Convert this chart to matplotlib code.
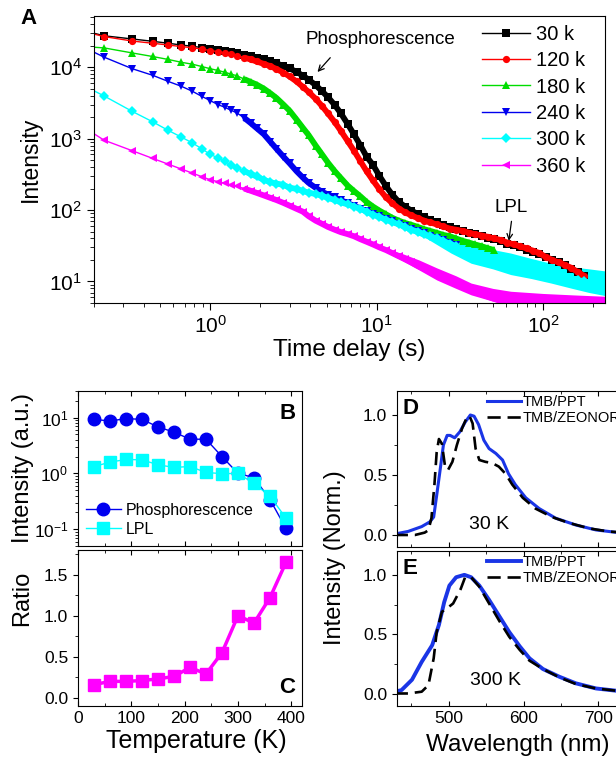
import matplotlib
matplotlib.use('Agg')
import matplotlib.pyplot as plt
from matplotlib.ticker import LogLocator, MultipleLocator, NullFormatter

plt.rcParams['font.family'] = ['Liberation Sans', 'DejaVu Sans']
plt.rcParams['mathtext.fontset'] = 'custom'
plt.rcParams['mathtext.rm'] = 'Liberation Sans'
plt.rcParams['mathtext.it'] = 'Liberation Sans:italic'
plt.rcParams['mathtext.bf'] = 'Liberation Sans:bold'
nan = float('nan')

# ---- panel A : decay curves ----
time_s = [0.12, 0.23, 0.34, 0.45, 0.56, 0.67, 0.78, 0.89, 1.0, 1.11, 1.22, 1.33, 1.44,
          1.6, 1.75, 1.9, 2.1, 2.3, 2.5, 2.75, 3.0, 3.3, 3.6,
          3.9, 4.3, 4.7, 5.1, 5.6, 6.1, 6.7, 7.3, 8.0, 8.7,
          9.5, 10.4, 11.4, 12.4, 13.6, 14.8, 16.2, 17.7, 19.3, 21,
          23, 25, 27.5, 30, 33, 36, 39, 43, 47, 51,
          56, 61, 67, 73, 80, 87, 95, 104, 114, 124,
          136, 148, 162, 177, 193, 210, 230]
i_30k = [40000, 27500, 24800, 23000, 21600, 20400, 19600, 18800, 18000, 17500, 17000, 16400, 15800,
         15000, 14300, 13600, 12800, 12100, 11300, 10400, 9600, 8600, 7600,
         6700, 5600, 4600, 3800, 2950, 2250, 1600, 1150, 800, 560,
         430, 300, 215, 165, 130, 112, 98, 88, 80, 73,
         67, 62, 57, 54, 51, 48, 46, 43, 41, 39,
         37, 34, 32, 30, 28, 26, 24, 22, 20, 18.5,
         17, 15, 13.5, 12, nan, nan, nan]
i_120k = [39000, 26800, 23200, 21600, 20400, 19400, 18700, 17900, 17100, 16500, 15900, 15200, 14500,
          13600, 12800, 12000, 11100, 10300, 9400, 8400, 7400, 6300, 5300,
          4500, 3600, 2850, 2250, 1700, 1280, 920, 680, 480, 350,
          260, 195, 150, 125, 105, 93, 84, 77, 71, 67,
          63, 59, 55, 53, 51, 48, 46, 44, 42, 40,
          38, 35, 33, 31, 29, 27, 25, 22, 20, 18.5,
          17, 15.5, 13.5, 12, nan, nan, nan]
i_180k = [20500, 18600, 15800, 14100, 12800, 11700, 11000, 10200, 9500, 9000, 8500, 8000, 7600,
          6800, 6200, 5700, 5000, 4300, 3700, 3000, 2450, 1850, 1420,
          1120, 800, 600, 460, 350, 280, 220, 185, 155, 130,
          112, 98, 87, 78, 71, 66, 62, 58, 54, 51,
          48, 45, 43, 40, 37, 35, 33, 31, 29, 27.5,
          nan, nan, nan, nan, nan, nan, nan, nan, nan, nan,
          nan, nan, nan, nan, nan, nan, nan]
i_240k = [29000, 13800, 9500, 7700, 6300, 5400, 4600, 3900, 3400, 3000, 2750, 2500, 2300,
          1950, 1650, 1400, 1150, 900, 720, 560, 450, 350, 285,
          240, 205, 180, 165, 150, 138, 125, 115, 105, 96,
          89, 82, 76, 70, 64, 59, 55, 51, 47, 44,
          41, 38, 35, 32, nan, nan, nan, nan, nan, nan,
          nan, nan, nan, nan, nan, nan, nan, nan, nan, nan,
          nan, nan, nan, nan, nan, nan, nan]
i_300k = [8600, 3950, 2400, 1720, 1300, 1050, 870, 720, 600, 540, 480, 430, 390,
          350, 320, 295, 265, 245, 235, 225, 205, 198, 185,
          175, 168, 158, 148, 138, 128, 120, 112, 104, 95,
          86, 80, 73, 68, 63, 58, 53, 50, 46, 43,
          40, 37, 34, 31, 28, 26, 24, 22, 21, 20,
          19, 18, 17, 16, 15, 14, 13.5, 13, 12.5, 12,
          11.5, 11, 10.5, 10, 9.7, 9.4, 9.0]
i_360k = [2500, 950, 676, 529, 438, 375, 329, 293, 265, 250, 238, 225, 215,
          200, 186, 174, 160, 148, 138, 126, 115, 104, 95,
          82, 71, 64, 58, 53, 49, 46, 43, 39, 36,
          33, 30, 27.5, 25, 22.5, 20.5, 18.5, 16.5, 15, 13.5,
          12.3, 11.2, 10.2, 9.3, 8.5, 7.8, 7.2, 6.6, 6.1, 5.7,
          5.4, 5.2, 5.1, 5.0, 5.0, 5.0, 5.0, 5.0, 5.0, 5.0,
          5.0, 5.0, 5.0, 5.0, 5.0, 5.0, 5.0]
# noisy tails (envelopes)
band300_t = [15, 20, 28, 37, 50, 64, 85, 112, 150, 190, 240]
band300_lo = [52, 40, 25, 18, 15, 12.5, 11, 9.5, 8, 7, 6.3]
band300_hi = [58, 50, 40, 31, 28, 25, 21, 18, 16, 15, 14]
band360_t = [11, 14, 18, 23, 30, 37, 50, 64, 100, 150, 240]
band360_lo = [27, 20, 14.5, 10.5, 8, 6.5, 5.3, 4.5, 4.5, 4.5, 4.5]
band360_hi = [29, 25, 20, 15.5, 12, 9.5, 8, 7.3, 6.8, 6.5, 6.2]

series_A = [('30 k', i_30k, 'black', 's'), ('120 k', i_120k, '#ff0000', 'o'),
            ('180 k', i_180k, '#00dd00', '^'), ('240 k', i_240k, '#0000ee', 'v'),
            ('300 k', i_300k, '#00ffff', 'D'), ('360 k', i_360k, '#ff00ff', '<')]

# ---- panels B, C ----
temp_K = [30, 60, 90, 120, 150, 180, 210, 240, 270, 300, 330, 360, 390]
phos = [9.3, 8.7, 9.6, 9.3, 6.8, 5.5, 4.1, 4.1, 2.0, 1.0, 0.84, 0.34, 0.103]
lpl = [1.33, 1.59, 1.78, 1.75, 1.43, 1.28, 1.33, 1.04, 0.99, 1.0, 0.66, 0.39, 0.158]
ratio = [0.16, 0.20, 0.20, 0.21, 0.23, 0.26, 0.37, 0.29, 0.55, 1.0, 0.91, 1.22, 1.65]

# ---- panels D, E : spectra ----
wl_ppt_30 = [428, 446, 464, 475, 480, 484, 489, 493, 498, 502, 508, 515, 522, 529, 534, 540,
             547, 554, 563, 572, 580, 589, 603, 621, 643, 670, 697, 724, 760, 790]
ppt_30 = [0.008, 0.03, 0.07, 0.11, 0.15, 0.33, 0.56, 0.75, 0.83, 0.83, 0.81, 0.86, 0.94, 1.0, 0.99, 0.92,
          0.79, 0.72, 0.68, 0.625, 0.51, 0.42, 0.31, 0.22, 0.14, 0.083, 0.042, 0.022, 0.012, 0.008]
wl_zeo_30 = [428, 455, 468, 473, 477, 481, 484, 487, 491, 495, 499, 505, 511, 518, 525, 528, 532,
             536, 541, 549, 558, 567, 576, 585, 599, 616, 638, 661, 688, 715, 760, 790]
zeo_30 = [0.0, 0.0, 0.02, 0.04, 0.14, 0.42, 0.69, 0.80, 0.76, 0.58, 0.54, 0.61, 0.75, 0.89, 0.99, 0.99, 0.93,
          0.72, 0.625, 0.61, 0.6, 0.57, 0.51, 0.42, 0.31, 0.22, 0.15, 0.1, 0.055, 0.028, 0.012, 0.008]
wl_ppt_300 = [428, 437, 451, 464, 478, 487, 494, 501, 510, 521, 530, 541, 554, 568, 581, 595,
              608, 626, 648, 670, 697, 724, 760, 790]
ppt_300 = [0.02, 0.033, 0.12, 0.27, 0.41, 0.58, 0.77, 0.91, 0.98, 1.0, 0.98, 0.91, 0.79, 0.65, 0.52, 0.40,
           0.30, 0.21, 0.145, 0.09, 0.047, 0.028, 0.015, 0.01]
wl_zeo_300 = [428, 446, 464, 473, 480, 484, 491, 498, 506, 516, 522, 530, 541, 554, 568, 581, 595,
              608, 626, 648, 670, 697, 724, 760, 790]
zeo_300 = [0.005, 0.005, 0.02, 0.075, 0.3, 0.52, 0.69, 0.72, 0.76, 0.88, 0.98, 0.98, 0.9, 0.76, 0.61, 0.48, 0.37,
           0.28, 0.21, 0.14, 0.084, 0.047, 0.028, 0.015, 0.01]

W, H = 616.0, 759.0
fig = plt.figure(figsize=(6.16, 7.59), dpi=100)


def box(l, t, r, b):
    return [l / W, 1 - b / H, (r - l) / W, (b - t) / H]


# ---------- A ----------
axA = fig.add_axes(box(94, 16, 605, 303))
dense = 13  # from here on the markers overlap into a band
for lab, vals, col, mk in series_A:
    axA.plot(time_s[dense:], vals[dense:], color=col, lw=4.2, solid_capstyle='butt')
    axA.plot(time_s, vals, color=col, marker=mk, ms=5.2, mew=0, lw=1, label=lab)
    if lab == '300 k':
        axA.fill_between(band300_t, band300_lo, band300_hi, color=col, lw=0)
    if lab == '360 k':
        axA.fill_between(band360_t, band360_lo, band360_hi, color=col, lw=0)
axA.set_xscale('log')
axA.set_yscale('log')
axA.set_xlim(0.2, 236)
axA.set_ylim(5, 5.2e4)
axA.xaxis.set_minor_locator(LogLocator(subs=range(2, 10), numticks=20))
axA.yaxis.set_minor_locator(LogLocator(subs=range(2, 10), numticks=20))
axA.xaxis.set_minor_formatter(NullFormatter())
axA.yaxis.set_minor_formatter(NullFormatter())
axA.tick_params(which='both', direction='out', top=False, right=False, labelsize=15)
axA.tick_params(which='major', length=5)
axA.tick_params(which='minor', length=3)
axA.set_xlabel('Time delay (s)', fontsize=17.5, labelpad=2)
fig.text(30 / W, 1 - 159 / H, 'Intensity', rotation=90, fontsize=16.5, ha='center', va='center')
axA.legend(loc='upper left', bbox_to_anchor=(0.759, 0.97), frameon=False, fontsize=14.5,
           handlelength=2.4, handletextpad=0.3, labelspacing=0.37, borderpad=0, borderaxespad=0)
axA.text(10.6, 24000, 'Phosphorescence', fontsize=13.5, ha='center', va='center')
axA.annotate('', xy=(4.3, 8000), xytext=(5.4, 14500),
             arrowprops=dict(arrowstyle='->', color='black', lw=0.9))
axA.text(64, 110, 'LPL', fontsize=13.5, ha='center', va='center')
axA.annotate('', xy=(62, 34), xytext=(65, 76),
             arrowprops=dict(arrowstyle='->', color='black', lw=0.9))
fig.text(20 / W, 1 - 18 / H, 'A', fontsize=16, fontweight='bold', ha='left', va='center')

# ---------- B ----------
axB = fig.add_axes(box(78, 391, 302, 546))
axB.plot(temp_K, phos, color='#0000f0', marker='o', ms=9, lw=1, label='Phosphorescence')
axB.plot(temp_K, lpl, color='#00ffff', marker='s', ms=8, lw=1, label='LPL')
axB.set_yscale('log')
axB.set_xlim(0, 420)
axB.set_ylim(0.05, 30)
axB.xaxis.set_major_locator(MultipleLocator(100))
axB.xaxis.set_minor_locator(MultipleLocator(50))
axB.yaxis.set_minor_locator(LogLocator(subs=range(2, 10), numticks=20))
axB.yaxis.set_minor_formatter(NullFormatter())
axB.tick_params(axis='x', which='both', direction='in', top=True, labelbottom=False)
axB.tick_params(axis='y', which='both', direction='out', labelsize=12.5)
axB.legend(loc='lower left', bbox_to_anchor=(0.035, 0.06), frameon=False, fontsize=11.5,
           handlelength=2.2, handletextpad=0.3, labelspacing=0.25, borderpad=0, borderaxespad=0)
axB.text(0.97, 0.92, 'B', transform=axB.transAxes, fontsize=16, fontweight='bold', ha='right', va='top')
fig.text(23 / W, 1 - 468 / H, 'Intensity (a.u.)', rotation=90, fontsize=17, ha='center', va='center')

# ---------- C ----------
axC = fig.add_axes(box(78, 550, 302, 706))
axC.plot(temp_K, ratio, color='#ff00ff', marker='s', ms=8.5, lw=2.5)
axC.set_xlim(0, 420)
axC.set_ylim(-0.1, 1.8)
axC.xaxis.set_major_locator(MultipleLocator(100))
axC.xaxis.set_minor_locator(MultipleLocator(50))
axC.yaxis.set_major_locator(MultipleLocator(0.5))
axC.yaxis.set_minor_locator(MultipleLocator(0.25))
axC.yaxis.set_major_formatter(plt.FormatStrFormatter('%.1f'))
axC.tick_params(axis='x', which='both', direction='in', top=True, labelsize=12.5)
axC.tick_params(axis='y', which='both', direction='out', labelsize=12.5)
axC.text(0.97, 0.05, 'C', transform=axC.transAxes, fontsize=16, fontweight='bold', ha='right', va='bottom')
fig.text(22 / W, 1 - 598 / H, 'Ratio', rotation=90, fontsize=17, ha='center', va='center')
fig.text(196 / W, 1 - 741 / H, 'Temperature (K)', fontsize=18, ha='center', va='center')

# ---------- D, E ----------
spec = [(box(397, 391, 659, 547), wl_ppt_30, ppt_30, wl_zeo_30, zeo_30, 'D', '30 K', 554, 0.09),
        (box(397, 551, 659, 706), wl_ppt_300, ppt_300, wl_zeo_300, zeo_300, 'E', '300 K', 562, 0.117)]
for k, (rect, wa, ya, wb, yb, letter, tlab, tx, ty) in enumerate(spec):
    ax = fig.add_axes(rect)
    ax.plot(wa, ya, color='#1a35e6', lw=2.2 if k == 0 else 2.8, label='TMB/PPT')
    ax.plot(wb, yb, color='black', lw=1.9, dashes=(5, 2.6), label='TMB/ZEONOR')
    ax.set_xlim(431, 781)
    ax.set_ylim(-0.1, 1.2)
    ax.xaxis.set_major_locator(MultipleLocator(100))
    ax.xaxis.set_minor_locator(MultipleLocator(50))
    ax.yaxis.set_major_locator(MultipleLocator(0.5))
    ax.yaxis.set_minor_locator(MultipleLocator(0.25))
    ax.yaxis.set_major_formatter(plt.FormatStrFormatter('%.1f'))
    ax.tick_params(axis='x', which='both', direction='in', top=True, labelsize=12.5,
                   labelbottom=(k == 1))
    ax.tick_params(axis='y', which='both', direction='out', labelsize=12.5)
    ax.legend(loc='upper left', bbox_to_anchor=(0.344, 0.975), frameon=False, fontsize=10.5,
              handlelength=2.3, handletextpad=0.15, labelspacing=0.12, borderpad=0, borderaxespad=0)
    ax.text(0.02, 0.955, letter, transform=ax.transAxes, fontsize=16, fontweight='bold', ha='left', va='top')
    ax.text(tx, ty, tlab, fontsize=14, ha='center', va='center')
fig.text(335 / W, 1 - 558 / H, 'Intensity (Norm.)', rotation=90, fontsize=17, ha='center', va='center')
fig.text(518 / W, 1 - 745 / H, 'Wavelength (nm)', fontsize=17.5, ha='center', va='center')

fig.savefig('out.png', dpi=100)
